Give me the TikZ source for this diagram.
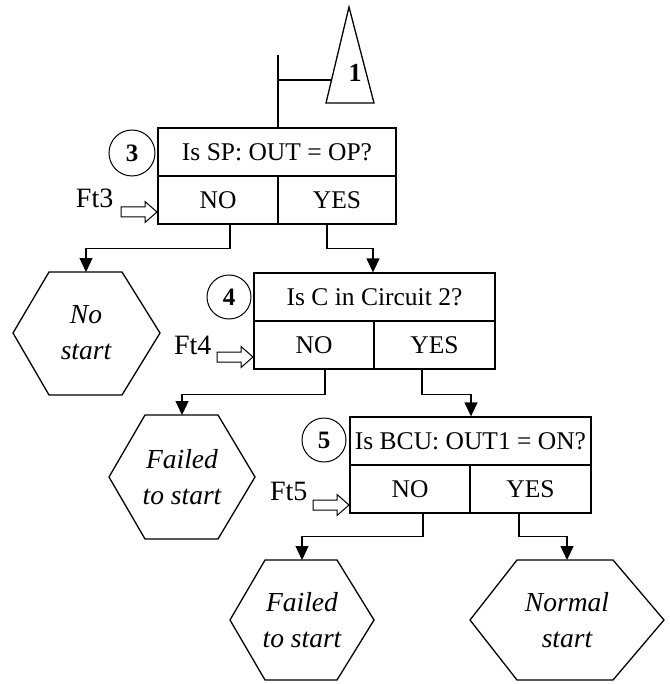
\documentclass[tikz,border=0pt]{standalone}
\usepackage{fontspec}
\setmainfont{Liberation Serif}
\usetikzlibrary{arrows.meta,calc}
\begin{document}
\begin{tikzpicture}[x=1pt,y=-1pt,
  line width=1.3pt,
  cell/.style={draw, minimum height=48pt, inner sep=0pt, font=\fontsize{25.5}{28}\selectfont},
  num/.style={draw, circle, line width=1pt, minimum size=44pt, inner sep=0pt, font=\fontsize{25}{28}\selectfont\bfseries},
  ftlabel/.style={anchor=base east, inner sep=0pt, font=\fontsize{28}{30}\selectfont},
  hextext/.style={align=center, inner sep=0pt, font=\fontsize{27.5}{36}\selectfont\itshape},
  conn/.style={-{Triangle[length=14pt,width=13pt]}},
  openarr/.pic={\draw[line width=1pt] (0,0) -- (-12,-10.5) -- (-12,-5) -- (-36,-5) -- (-36,5) -- (-12,5) -- (-12,10.5) -- cycle;}
]
\useasboundingbox (0,0) rectangle (669,684);

% triangle 1
\draw (349,7) -- (374,103) -- (326,103) -- cycle;
\node[inner sep=0pt, font=\fontsize{26}{28}\selectfont\bfseries] (t1) at (355,73) {1};
\coordinate (topend) at (278,55);
\coordinate (tj) at (278,80);
\coordinate (tedge) at (331.5,80);

% box 3
\node[cell, minimum width=238pt] (q3) at (277,152) {Is SP: OUT = OP?};
\node[cell, minimum width=120pt] (n3) at (218,200) {NO};
\node[cell, minimum width=118pt] (y3) at (337,200) {YES};
\node[num, minimum size=46pt] (c3) at (132,153) {3};
\node[ftlabel] (f3) at (114,208) {Ft3};
\pic (a3) at (157,212) {openarr};

% box 4
\node[cell, minimum width=241pt] (q4) at (374.5,297) {Is C in Circuit 2?};
\node[cell, minimum width=120pt] (n4) at (314,345) {NO};
\node[cell, minimum width=121pt] (y4) at (434.5,345) {YES};
\node[num] (c4) at (229,297) {4};
\node[ftlabel] (f4) at (212,354) {Ft4};
\pic (a4) at (253,357) {openarr};

% box 5
\node[cell, minimum width=241pt] (q5) at (470.5,441) {Is BCU: OUT1 = ON?};
\node[cell, minimum width=120pt] (n5) at (410,489) {NO};
\node[cell, minimum width=121pt] (y5) at (530.5,489) {YES};
\node[num] (c5) at (324,440) {5};
\node[ftlabel] (f5) at (308,500) {Ft5};
\pic (a5) at (349,505) {openarr};

% hexagons
\draw (49,272) -- (122,272) -- (160,333) -- (122,395) -- (49,395) -- (13,333) -- cycle;
\node[hextext] (h1) at (86,333) {No\\start};
\coordinate (h1t) at (86,272);

\draw (145,415) -- (218,415) -- (255,477) -- (218,539) -- (145,539) -- (109,477) -- cycle;
\node[hextext] (h2) at (182,477) {Failed\\to start};
\coordinate (h2t) at (182,415);

\draw (265,560) -- (337,560) -- (374,620) -- (337,680) -- (265,680) -- (230,620) -- cycle;
\node[hextext] (h3) at (302,620) {Failed\\to start};
\coordinate (h3t) at (302,560);

\draw (517,560) -- (613,560) -- (664,620) -- (613,680) -- (517,680) -- (470,620) -- cycle;
\node[hextext] (h4) at (567,620) {Normal\\start};
\coordinate (h4t) at (567,560);

% connectors
\draw (topend) -- (q3.north -| topend);
\draw (tj) -- (tedge);

\draw[conn] ([xshift=12pt]n3.south) -- ++(0,24) -| (h1t);
\draw[conn] ([xshift=-10pt]y3.south) -- ++(0,24) -| ([xshift=-1.5pt]q4.north);

\draw[conn] ([xshift=11pt]n4.south) -- ++(0,25) -| (h2t);
\draw[conn] ([xshift=-12.5pt]y4.south) -- ++(0,25) -| ([xshift=0.5pt]q5.north);

\draw[conn] ([xshift=13pt]n5.south) -- ++(0,23) -| (h3t);
\draw[conn] ([xshift=-11.5pt]y5.south) -- ++(0,23) -| (h4t);
\end{tikzpicture}
\end{document}
